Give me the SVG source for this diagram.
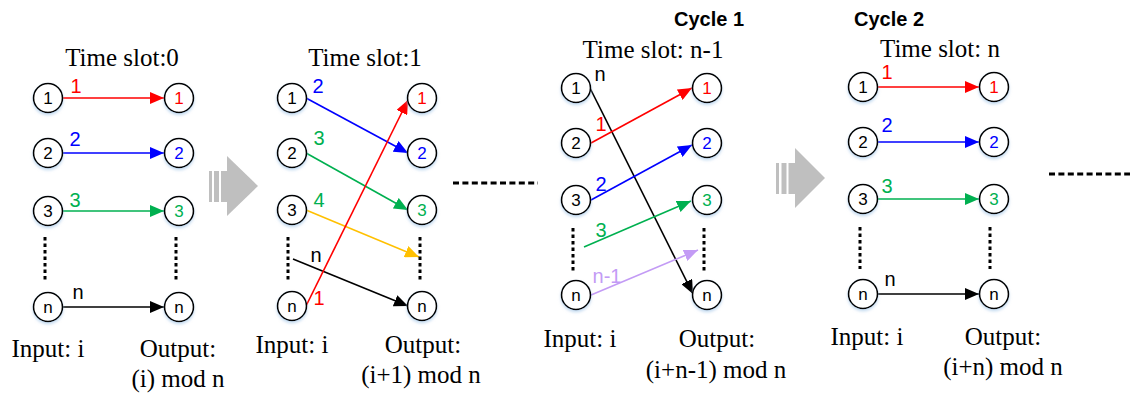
<svg xmlns="http://www.w3.org/2000/svg" width="1130" height="395" viewBox="0 0 1130 395">
<style>
.nd{fill:#fff;stroke:#000;stroke-width:1.6;filter:url(#sh)}
.nt{font-family:"Liberation Sans",Arial,sans-serif;font-size:17px;text-anchor:middle}
.el{font-family:"Liberation Sans",Arial,sans-serif;font-size:20px;text-anchor:middle}
.tt{font-family:"Liberation Serif","Times New Roman",serif;font-size:25px;text-anchor:middle;fill:#000}
.cy{font-family:"Liberation Sans",Arial,sans-serif;font-size:20px;font-weight:bold;text-anchor:middle}
.ln{stroke-width:1.6;fill:none}
.dot{stroke:#000;stroke-width:3;stroke-dasharray:3.5 3}
.hd{stroke:#000;stroke-width:3.2;stroke-dasharray:6 3.4}
.big{fill:#BFBFBF}
.r{fill:#FF0000}.b{fill:#0000FF}.g{fill:#00B050}.k{fill:#000}.p{fill:#C39BF5}
</style>
<defs>
<filter id="sh" x="-30%" y="-30%" width="160%" height="170%">
<feDropShadow dx="0" dy="2" stdDeviation="1.5" flood-color="#9DC3E6" flood-opacity="0.6"/>
</filter>
<marker id="mr" markerUnits="userSpaceOnUse" markerWidth="15" markerHeight="12" refX="14" refY="6" orient="auto"><path d="M0,0 L14,6 L0,12 z" fill="#FF0000"/></marker>
<marker id="mb" markerUnits="userSpaceOnUse" markerWidth="15" markerHeight="12" refX="14" refY="6" orient="auto"><path d="M0,0 L14,6 L0,12 z" fill="#0000FF"/></marker>
<marker id="mg" markerUnits="userSpaceOnUse" markerWidth="15" markerHeight="12" refX="14" refY="6" orient="auto"><path d="M0,0 L14,6 L0,12 z" fill="#00B050"/></marker>
<marker id="my" markerUnits="userSpaceOnUse" markerWidth="15" markerHeight="12" refX="14" refY="6" orient="auto"><path d="M0,0 L14,6 L0,12 z" fill="#FFC000"/></marker>
<marker id="mk" markerUnits="userSpaceOnUse" markerWidth="15" markerHeight="12" refX="14" refY="6" orient="auto"><path d="M0,0 L14,6 L0,12 z" fill="#000"/></marker>
<marker id="mp" markerUnits="userSpaceOnUse" markerWidth="15" markerHeight="12" refX="14" refY="6" orient="auto"><path d="M0,0 L14,6 L0,12 z" fill="#C39BF5"/></marker>
</defs>
<rect width="1130" height="395" fill="#fff"/>

<!-- big gray arrows -->
<g id="bigarrow1" class="big">
<rect x="209" y="171" width="3" height="31"/>
<rect x="214" y="171" width="5" height="31"/>
<rect x="221" y="171" width="7" height="31"/>
<path d="M227,156 L258,186 L227,216 z"/>
</g>
<g id="bigarrow2" class="big">
<rect x="776" y="163" width="3" height="31"/>
<rect x="781.5" y="163" width="5" height="31"/>
<rect x="788.5" y="163" width="7" height="31"/>
<path d="M795,148 L825,178 L795,208 z"/>
</g>

<!-- headings -->
<g id="headings">
<text class="tt" x="122" y="66">Time slot:0</text>
<text class="tt" x="365" y="66">Time slot:1</text>
<text class="cy" x="709" y="26">Cycle 1</text>
<text class="tt" x="653" y="58">Time slot: n-1</text>
<text class="cy" x="889" y="26">Cycle 2</text>
<text class="tt" x="940" y="57">Time slot: n</text>
</g>

<!-- connectors -->
<g id="connectors">
<!-- panel 1 -->
<line class="ln" stroke="#FF0000" x1="62" y1="98" x2="164" y2="98" marker-end="url(#mr)"/>
<line class="ln" stroke="#0000FF" x1="62" y1="153" x2="164" y2="153" marker-end="url(#mb)"/>
<line class="ln" stroke="#00B050" x1="62" y1="211" x2="164" y2="211" marker-end="url(#mg)"/>
<line class="ln" stroke="#000" x1="62" y1="307" x2="164" y2="307" marker-end="url(#mk)"/>
<!-- panel 2 -->
<line class="ln" stroke="#0000FF" x1="306" y1="98" x2="408" y2="153" marker-end="url(#mb)"/>
<line class="ln" stroke="#00B050" x1="306" y1="153" x2="408" y2="210" marker-end="url(#mg)"/>
<line class="ln" stroke="#FFC000" x1="306" y1="210" x2="419" y2="257" marker-end="url(#my)"/>
<line class="ln" stroke="#000" x1="293" y1="259" x2="408" y2="306" marker-end="url(#mk)"/>
<line class="ln" stroke="#FF0000" x1="306" y1="306" x2="408" y2="100" marker-end="url(#mr)"/>
<!-- panel 3 -->
<line class="ln" stroke="#000" x1="590" y1="88" x2="693" y2="294" marker-end="url(#mk)"/>
<line class="ln" stroke="#FF0000" x1="591" y1="143" x2="692" y2="88" marker-end="url(#mr)"/>
<line class="ln" stroke="#0000FF" x1="591" y1="200" x2="692" y2="145" marker-end="url(#mb)"/>
<line class="ln" stroke="#00B050" x1="584" y1="247" x2="691" y2="201" marker-end="url(#mg)"/>
<line class="ln" stroke="#C39BF5" x1="591" y1="295" x2="698" y2="250" marker-end="url(#mp)"/>
<!-- panel 4 -->
<line class="ln" stroke="#FF0000" x1="877" y1="87" x2="979" y2="87" marker-end="url(#mr)"/>
<line class="ln" stroke="#0000FF" x1="877" y1="142" x2="979" y2="142" marker-end="url(#mb)"/>
<line class="ln" stroke="#00B050" x1="877" y1="199" x2="979" y2="199" marker-end="url(#mg)"/>
<line class="ln" stroke="#000" x1="877" y1="294" x2="979" y2="294" marker-end="url(#mk)"/>
</g>

<!-- dotted columns and ellipsis dashes -->
<g id="dots">
<line class="dot" x1="45" y1="237" x2="45" y2="282"/>
<line class="dot" x1="176" y1="237" x2="176" y2="282"/>
<line class="dot" x1="288" y1="237" x2="288" y2="281"/>
<line class="dot" x1="420" y1="237" x2="420" y2="281"/>
<line class="dot" x1="573" y1="228" x2="573" y2="271"/>
<line class="dot" x1="704" y1="228" x2="704" y2="271"/>
<line class="dot" x1="860" y1="227" x2="860" y2="269"/>
<line class="dot" x1="990" y1="227" x2="990" y2="269"/>
<line class="hd" x1="453" y1="183" x2="538" y2="183"/>
<line class="hd" x1="1049" y1="174" x2="1130" y2="174"/>
</g>

<!-- edge labels -->
<g id="edge-labels">
<text class="el r" x="76" y="93">1</text>
<text class="el b" x="75" y="146">2</text>
<text class="el g" x="75" y="207">3</text>
<text class="el k" x="78" y="299">n</text>
<text class="el b" x="318" y="93">2</text>
<text class="el g" x="319" y="145">3</text>
<text class="el g" x="319" y="207">4</text>
<text class="el k" x="316" y="262">n</text>
<text class="el r" x="319" y="305">1</text>
<text class="el k" x="600" y="81">n</text>
<text class="el r" x="601" y="131">1</text>
<text class="el b" x="601" y="191">2</text>
<text class="el g" x="601" y="237">3</text>
<text class="el p" x="607" y="283">n-1</text>
<text class="el r" x="887" y="79">1</text>
<text class="el b" x="887" y="132">2</text>
<text class="el g" x="887" y="193">3</text>
<text class="el k" x="890" y="286">n</text>
</g>

<!-- panel 1 nodes -->
<g id="p1-in-1"><circle class="nd" cx="48" cy="98" r="14.5"/><text class="nt" x="48" y="104">1</text></g>
<g id="p1-in-2"><circle class="nd" cx="48" cy="153" r="14.5"/><text class="nt" x="48" y="159">2</text></g>
<g id="p1-in-3"><circle class="nd" cx="48" cy="211" r="14.5"/><text class="nt" x="48" y="217">3</text></g>
<g id="p1-in-n"><circle class="nd" cx="48" cy="307" r="14.5"/><text class="nt" x="48" y="313">n</text></g>
<g id="p1-out-1"><circle class="nd" cx="179" cy="98" r="14.5"/><text class="nt r" x="179" y="104">1</text></g>
<g id="p1-out-2"><circle class="nd" cx="179" cy="153" r="14.5"/><text class="nt b" x="179" y="159">2</text></g>
<g id="p1-out-3"><circle class="nd" cx="179" cy="211" r="14.5"/><text class="nt g" x="179" y="217">3</text></g>
<g id="p1-out-n"><circle class="nd" cx="179" cy="307" r="14.5"/><text class="nt" x="179" y="313">n</text></g>

<!-- panel 2 nodes -->
<g id="p2-in-1"><circle class="nd" cx="292" cy="98" r="14.5"/><text class="nt" x="292" y="104">1</text></g>
<g id="p2-in-2"><circle class="nd" cx="292" cy="153" r="14.5"/><text class="nt" x="292" y="159">2</text></g>
<g id="p2-in-3"><circle class="nd" cx="292" cy="210" r="14.5"/><text class="nt" x="292" y="216">3</text></g>
<g id="p2-in-n"><circle class="nd" cx="292" cy="306" r="14.5"/><text class="nt" x="292" y="312">n</text></g>
<g id="p2-out-1"><circle class="nd" cx="422" cy="98" r="14.5"/><text class="nt r" x="422" y="104">1</text></g>
<g id="p2-out-2"><circle class="nd" cx="422" cy="153" r="14.5"/><text class="nt b" x="422" y="159">2</text></g>
<g id="p2-out-3"><circle class="nd" cx="422" cy="210" r="14.5"/><text class="nt g" x="422" y="216">3</text></g>
<g id="p2-out-n"><circle class="nd" cx="422" cy="306" r="14.5"/><text class="nt" x="422" y="312">n</text></g>

<!-- panel 3 nodes -->
<g id="p3-in-1"><circle class="nd" cx="576" cy="88" r="14.5"/><text class="nt" x="576" y="94">1</text></g>
<g id="p3-in-2"><circle class="nd" cx="576" cy="143" r="14.5"/><text class="nt" x="576" y="149">2</text></g>
<g id="p3-in-3"><circle class="nd" cx="576" cy="200" r="14.5"/><text class="nt" x="576" y="206">3</text></g>
<g id="p3-in-n"><circle class="nd" cx="576" cy="295" r="14.5"/><text class="nt" x="576" y="301">n</text></g>
<g id="p3-out-1"><circle class="nd" cx="707" cy="88" r="14.5"/><text class="nt r" x="707" y="94">1</text></g>
<g id="p3-out-2"><circle class="nd" cx="707" cy="143" r="14.5"/><text class="nt b" x="707" y="149">2</text></g>
<g id="p3-out-3"><circle class="nd" cx="707" cy="200" r="14.5"/><text class="nt g" x="707" y="206">3</text></g>
<g id="p3-out-n"><circle class="nd" cx="707" cy="295" r="14.5"/><text class="nt" x="707" y="301">n</text></g>

<!-- panel 4 nodes -->
<g id="p4-in-1"><circle class="nd" cx="863" cy="87" r="14.5"/><text class="nt" x="863" y="93">1</text></g>
<g id="p4-in-2"><circle class="nd" cx="863" cy="142" r="14.5"/><text class="nt" x="863" y="148">2</text></g>
<g id="p4-in-3"><circle class="nd" cx="863" cy="199" r="14.5"/><text class="nt" x="863" y="205">3</text></g>
<g id="p4-in-n"><circle class="nd" cx="863" cy="294" r="14.5"/><text class="nt" x="863" y="300">n</text></g>
<g id="p4-out-1"><circle class="nd" cx="994" cy="87" r="14.5"/><text class="nt r" x="994" y="93">1</text></g>
<g id="p4-out-2"><circle class="nd" cx="994" cy="142" r="14.5"/><text class="nt b" x="994" y="148">2</text></g>
<g id="p4-out-3"><circle class="nd" cx="994" cy="199" r="14.5"/><text class="nt g" x="994" y="205">3</text></g>
<g id="p4-out-n"><circle class="nd" cx="994" cy="294" r="14.5"/><text class="nt" x="994" y="300">n</text></g>

<!-- bottom captions -->
<g id="captions">
<text class="tt" x="48" y="357">Input: i</text>
<text class="tt" x="178" y="357">Output:</text>
<text class="tt" x="178" y="387">(i) mod n</text>
<text class="tt" x="292" y="353">Input: i</text>
<text class="tt" x="423" y="353">Output:</text>
<text class="tt" x="421" y="383">(i+1) mod n</text>
<text class="tt" x="580" y="347">Input: i</text>
<text class="tt" x="717" y="347">Output:</text>
<text class="tt" x="716" y="378">(i+n-1) mod n</text>
<text class="tt" x="867" y="345">Input: i</text>
<text class="tt" x="1003" y="345">Output:</text>
<text class="tt" x="1003" y="375">(i+n) mod n</text>
</g>
</svg>
